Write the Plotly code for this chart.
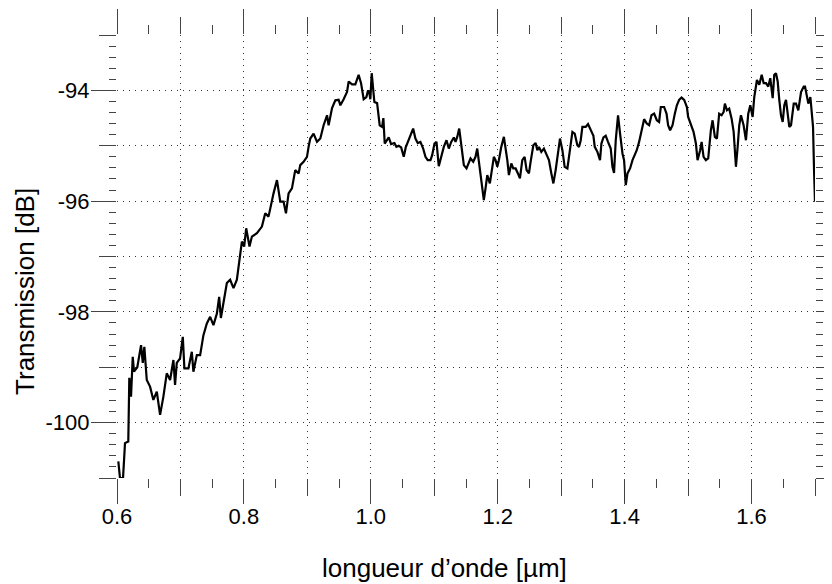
import plotly.graph_objects as go

# Spectrum
wavelength_um = [
    0.6021, 0.6047, 0.6095, 0.6126, 0.6178, 0.6194, 0.6221, 0.6248, 0.6268, 0.6320,
    0.6379, 0.6406, 0.6431, 0.6469, 0.6521, 0.6573, 0.6627, 0.6679, 0.6731, 0.6784,
    0.6837, 0.6889, 0.6915, 0.6942, 0.6994, 0.7037, 0.7062, 0.7125, 0.7179, 0.7204,
    0.7258, 0.7310, 0.7362, 0.7416, 0.7468, 0.7520, 0.7574, 0.7610, 0.7637, 0.7678,
    0.7731, 0.7783, 0.7836, 0.7889, 0.7941, 0.7968, 0.8004, 0.8036, 0.8088, 0.8126,
    0.8205, 0.8284, 0.8336, 0.8388, 0.8467, 0.8521, 0.8573, 0.8625, 0.8663, 0.8704,
    0.8757, 0.8809, 0.8862, 0.8888, 0.8940, 0.8994, 0.9019, 0.9046, 0.9098, 0.9152,
    0.9204, 0.9256, 0.9310, 0.9335, 0.9389, 0.9441, 0.9493, 0.9520, 0.9572, 0.9625,
    0.9651, 0.9704, 0.9756, 0.9808, 0.9846, 0.9887, 0.9930, 0.9957, 0.9977, 0.9993,
    1.0014, 1.0036, 1.0056, 1.0099, 1.0140, 1.0178, 1.0198, 1.0219, 1.0257, 1.0282,
    1.0320, 1.0372, 1.0403, 1.0440, 1.0478, 1.0519, 1.0550, 1.0598, 1.0624, 1.0667,
    1.0703, 1.0740, 1.0782, 1.0825, 1.0861, 1.0897, 1.0940, 1.0967, 1.1003, 1.1035,
    1.1071, 1.1109, 1.1150, 1.1193, 1.1229, 1.1267, 1.1308, 1.1335, 1.1362, 1.1393,
    1.1425, 1.1466, 1.1508, 1.1545, 1.1571, 1.1614, 1.1650, 1.1677, 1.1718, 1.1756,
    1.1781, 1.1808, 1.1835, 1.1876, 1.1914, 1.1939, 1.1966, 1.1993, 1.2018, 1.2056,
    1.2097, 1.2124, 1.2151, 1.2176, 1.2214, 1.2245, 1.2282, 1.2318, 1.2350, 1.2387,
    1.2424, 1.2455, 1.2492, 1.2518, 1.2561, 1.2597, 1.2624, 1.2649, 1.2687, 1.2728,
    1.2771, 1.2807, 1.2845, 1.2877, 1.2913, 1.2949, 1.2981, 1.3019, 1.3055, 1.3098,
    1.3139, 1.3177, 1.3213, 1.3255, 1.3281, 1.3308, 1.3334, 1.3386, 1.3423, 1.3465,
    1.3508, 1.3529, 1.3571, 1.3612, 1.3634, 1.3666, 1.3702, 1.3738, 1.3781, 1.3808,
    1.3833, 1.3860, 1.3896, 1.3928, 1.3966, 1.3991, 1.4018, 1.4045, 1.4086, 1.4124,
    1.4160, 1.4191, 1.4228, 1.4266, 1.4307, 1.4349, 1.4386, 1.4423, 1.4465, 1.4507,
    1.4543, 1.4570, 1.4622, 1.4660, 1.4685, 1.4717, 1.4755, 1.4791, 1.4823, 1.4859,
    1.4897, 1.4938, 1.4981, 1.5001, 1.5044, 1.5086, 1.5123, 1.5149, 1.5190, 1.5213,
    1.5244, 1.5280, 1.5317, 1.5359, 1.5386, 1.5422, 1.5454, 1.5490, 1.5528, 1.5560,
    1.5580, 1.5612, 1.5648, 1.5686, 1.5718, 1.5754, 1.5781, 1.5806, 1.5833, 1.5875,
    1.5912, 1.5948, 1.5980, 1.6017, 1.6043, 1.6085, 1.6122, 1.6160, 1.6191, 1.6227,
    1.6264, 1.6295, 1.6333, 1.6358, 1.6385, 1.6412, 1.6437, 1.6464, 1.6491, 1.6516,
    1.6543, 1.6570, 1.6595, 1.6622, 1.6665, 1.6701, 1.6737, 1.6780, 1.6822, 1.6843,
    1.6875, 1.6895, 1.6927, 1.6949, 1.6969, 1.6985, 1.7000,
]
transmission_db = [
    -100.70, -101.00, -101.00, -100.37, -100.34, -99.19, -99.53, -98.81, -99.08, -99.00,
    -98.60, -98.92, -98.63, -99.23, -99.35, -99.59, -99.44, -99.86, -99.53, -99.11,
    -99.23, -98.87, -99.32, -98.92, -98.84, -98.45, -99.02, -99.02, -98.72, -99.08,
    -98.78, -98.78, -98.42, -98.21, -98.09, -98.24, -98.03, -97.73, -98.11, -97.84,
    -97.48, -97.42, -97.57, -97.42, -96.90, -96.73, -96.82, -96.49, -96.82, -96.64,
    -96.58, -96.46, -96.22, -96.28, -95.86, -95.62, -96.01, -96.01, -96.22, -95.86,
    -95.77, -95.44, -95.50, -95.35, -95.29, -95.20, -95.02, -94.87, -94.78, -94.93,
    -94.87, -94.63, -94.45, -94.63, -94.32, -94.18, -94.17, -94.27, -94.16, -94.03,
    -93.84, -93.89, -93.89, -93.72, -93.87, -94.16, -94.12, -94.00, -94.05, -94.16,
    -93.69, -94.05, -94.21, -94.23, -94.63, -94.66, -94.50, -94.96, -94.90, -94.85,
    -94.97, -94.95, -95.02, -95.00, -95.03, -95.20, -95.03, -94.90, -94.84, -94.69,
    -94.87, -94.95, -94.93, -95.05, -95.20, -95.26, -95.26, -95.17, -94.96, -94.93,
    -95.37, -95.20, -95.02, -94.90, -95.05, -94.93, -94.85, -94.93, -94.84, -94.69,
    -94.96, -95.35, -95.41, -95.32, -95.23, -95.29, -95.20, -95.05, -95.44, -95.80,
    -95.98, -95.77, -95.53, -95.68, -95.38, -95.20, -95.26, -95.38, -95.26, -95.02,
    -94.84, -95.02, -95.26, -95.53, -95.32, -95.41, -95.41, -95.50, -95.59, -95.26,
    -95.20, -95.44, -95.50, -95.29, -94.99, -94.95, -95.08, -95.02, -95.11, -95.05,
    -95.17, -95.26, -95.50, -95.68, -95.44, -95.14, -94.87, -95.08, -95.38, -95.41,
    -95.02, -94.75, -94.78, -94.99, -95.02, -94.90, -94.66, -94.66, -94.61, -94.73,
    -94.82, -95.02, -95.11, -95.26, -94.96, -94.85, -94.82, -94.93, -95.05, -95.38,
    -95.49, -94.90, -94.45, -94.78, -95.14, -95.26, -95.71, -95.50, -95.41, -95.26,
    -95.17, -95.08, -94.93, -94.75, -94.52, -94.60, -94.63, -94.45, -94.42, -94.54,
    -94.57, -94.30, -94.30, -94.42, -94.63, -94.72, -94.63, -94.42, -94.27, -94.17,
    -94.13, -94.17, -94.30, -94.48, -94.63, -94.75, -94.96, -95.26, -95.08, -94.93,
    -95.20, -95.26, -95.23, -94.72, -94.54, -94.84, -94.87, -94.42, -94.45, -94.39,
    -94.24, -94.36, -94.33, -94.51, -94.75, -95.38, -95.02, -94.63, -94.45, -94.63,
    -94.90, -94.42, -94.27, -94.48, -94.12, -93.81, -93.90, -93.72, -93.87, -93.87,
    -93.93, -93.78, -94.14, -93.72, -93.69, -93.84, -94.17, -94.45, -94.57, -94.27,
    -94.17, -94.39, -94.66, -94.63, -94.24, -94.24, -94.36, -94.03, -93.93, -93.93,
    -94.14, -94.24, -94.12, -94.36, -94.66, -95.44, -96.01,
]

x_range = [0.6, 1.7]
y_range = [-101, -93]
x_tickvals = [0.6, 0.8, 1.0, 1.2, 1.4, 1.6]
x_ticktext = ["0.6", "0.8", "1.0", "1.2", "1.4", "1.6"]
y_tickvals = [-100, -98, -96, -94]
y_ticktext = ["-100", "-98", "-96", "-94"]

font = "Liberation Sans, Arial, Helvetica, sans-serif"
tick_col = "#444"
grid_col = "#333"

fig = go.Figure()
fig.add_trace(go.Scatter(x=wavelength_um, y=transmission_db, mode="lines",
                         line=dict(color="black", width=2.2), showlegend=False,
                         hoverinfo="skip"))

# main axes: labelled long ticks + short minor ticks, no grid
fig.update_layout(
    xaxis=dict(range=x_range, tickmode="array", tickvals=x_tickvals, ticktext=x_ticktext,
               ticks="outside", ticklen=25, tickwidth=1, tickcolor=tick_col,
               ticklabelstandoff=-6,
               mirror="ticks", showline=False, showgrid=False, zeroline=False,
               tickfont=dict(family=font, size=22, color="black"),
               minor=dict(tick0=0.6, dtick=0.05, ticklen=9, tickwidth=1, tickcolor=tick_col,
                          ticks="outside", showgrid=False)),
    yaxis=dict(range=y_range, tickmode="array", tickvals=y_tickvals, ticktext=y_ticktext,
               ticks="outside", ticklen=25, tickwidth=1, tickcolor=tick_col,
               ticklabelstandoff=-3,
               mirror="ticks", showline=False, showgrid=False, zeroline=False,
               tickfont=dict(family=font, size=22, color="black"),
               minor=dict(tick0=-101, dtick=0.2, ticklen=7, tickwidth=1, tickcolor=tick_col,
                          ticks="outside", showgrid=False)),
    # overlay axes: medium ticks + dotted grid
    xaxis2=dict(range=x_range, overlaying="x", side="bottom", tick0=0.6, dtick=0.1,
                ticks="outside", ticklen=17, tickwidth=1, tickcolor=tick_col,
                mirror="ticks", showticklabels=False, showline=False, zeroline=False,
                showgrid=True, gridcolor=grid_col, gridwidth=1, griddash="1px,5px"),
    yaxis2=dict(range=y_range, overlaying="y", side="left", tick0=-101, dtick=1,
                ticks="outside", ticklen=17, tickwidth=1, tickcolor=tick_col,
                mirror="ticks", showticklabels=False, showline=False, zeroline=False,
                showgrid=True, gridcolor=grid_col, gridwidth=1, griddash="1px,5px"),
    # the page body adds 8px, so the figure is 8px smaller and shifted
    width=824, height=576,
    margin=dict(l=109, r=17, t=27, b=106),
    plot_bgcolor="white", paper_bgcolor="white",
    font=dict(family=font, color="black"),
)

# invisible trace so the overlay axes get drawn
fig.add_trace(go.Scatter(x=[x_range[0]], y=[y_range[0]], xaxis="x2", yaxis="y2",
                         mode="markers", marker=dict(opacity=0), showlegend=False,
                         hoverinfo="skip"))

fig.add_annotation(text="longueur d’onde [µm]", xref="paper", yref="paper",
                   x=0.4685, y=-0.203, xanchor="center", yanchor="middle",
                   showarrow=False, font=dict(family=font, size=26, color="black"))
fig.add_annotation(text="Transmission [dB]", xref="paper", yref="paper",
                   x=-0.1318, y=0.42, xanchor="center", yanchor="middle",
                   textangle=-90, showarrow=False,
                   font=dict(family=font, size=26, color="black"))

fig.write_html("out.html")
